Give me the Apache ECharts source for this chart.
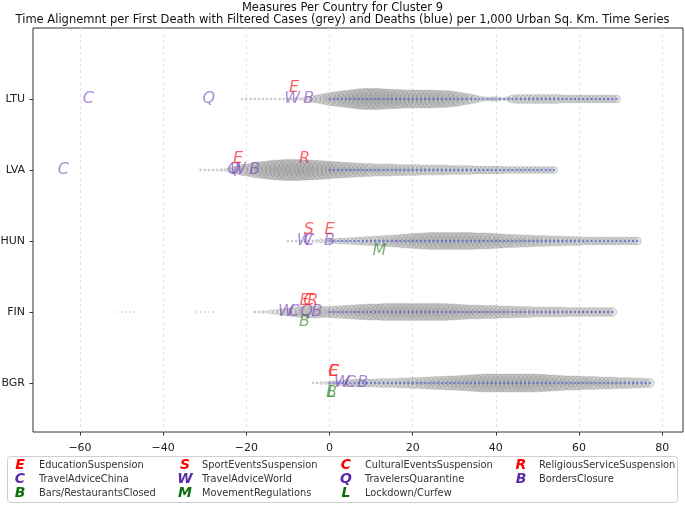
<!DOCTYPE html>
<html><head><meta charset="utf-8">
<script src="https://cdn.jsdelivr.net/npm/echarts@6/dist/echarts.min.js"></script>
<style>html,body{margin:0;padding:0;background:#fff}#c{width:685px;height:505px}</style>
</head><body><div id="c"></div>
<script>
// ---------------- data ----------------
const countries = ['BGR', 'FIN', 'HUN', 'LVA', 'LTU']; // bottom -> top
const xTicks = [-60, -40, -20, 0, 20, 40, 60, 80];
const titleText = 'Measures Per Country for Cluster 9';
const subtitleText = 'Time Alignemnt per First Death with Filtered Cases (grey) and Deaths (blue) per 1,000 Urban Sq. Km. Time Series';

// filtered cases per 1,000 urban sq. km, one value per day from the start day (day 0 = first death)
const ltuStart = -21;
const ltuCases = [1,1,1,1,1,1,1, 1,1,1, 1,1,2,2,2,4,6, 12,16,25,30, 42,49,56,64,72,81,90,100,
  110,110,110,110,110, 100,100,90,90,90, 81,81,81,81,81,81,81,81, 72,72,72,
  64,56,49,36,30,25,16,9,6,4,6,6,4,2,6, 16, 20,20,20,20,20,20,20,20,20,20,20,
  16,16,16,16,16,16,16,16,16,16,16,16,16,16];
const lvaStart = -31;
const lvaCases = [1,1,1,1,1,2,2, 6,12,20,30,36,42,56,64,72,81,90,
  100,100,110,110,110,110,110,100,100, 100,90,90,81,
  72,72,64,64,56,56,49,49,42,42,42, 36,36,36,36,36,30,30,30,30,30,
  30,25,25,25,25,25,25,25,20,20,20,20, 20,20,16,16,16,16,16,16,16,12,12,12,
  12,12,12,12,12,12,12,12,12,12];
const hunStart = -10;
const hunCases = [1,1,1,1,1,1,1, 2,4,4, 6,6,9,9,9,12,12,16,16, 20,20,25,25,30,30,36,36,
  42,49,49,56,56,64,64,72, 72,72,72,72,72,72,72,72, 72,72,64,64,64,64,56,56,
  49,49,42,42,42,36,36,36, 30,30,30,30,25,25,25,25, 20,20,20,20,16,16,16,16,
  16,16,16,16,16,16,16,16,16,16];
const finStart = -51;
const finCases = [0.2,0.2,0.2,0.2,0.2, 0,0,0,0,0,0,0,0,0,0,0,0,0,0, 0.2,0.2,0.2,0.2,0.2, 0,0,0,0,0,0,0,0,0,
  1,1,2,2, 4,6,9,12,16,20,25,30,36, 36,36,36,30,30, 30,36,36,42,42,49,49,56,56,
  64,64,64,64,72,72,72,72, 72,72,72,72,72,72,72,72,72,72,72,72, 64,64,56,56,
  49,49,49,49,42,42,42,42, 36,36,36,36,30,30,30,30, 25,25,25,25,25,25,25,25,
  20,20,20,20,20,20,20,20,20,20,20,20];
const bgrStart = -4;
const bgrCases = [1,1,2,2, 4,6,6,9,12,12,16,16,16, 16,16,16,20,20,20,20,20,
  25,25,25,30,30,30,36,36, 42,42,42,49,49,49,56,56, 64,64,72,72,
  81,81,81,81,81,81,81,81,81,81,81,81,81,81, 72,72,64,64,56,56,
  49,49,49,49,42,42,42,42, 36,36,36,36,30,30,30,30, 25,25,25,20,20];

// measures (legend order); group 0 = red, 1 = purple, 2 = green
const measureNames = ['EducationSuspension','SportEventsSuspension','CulturalEventsSuspension','ReligiousServiceSuspension',
  'TravelAdviceChina','TravelAdviceWorld','TravelersQuarantine','BordersClosure',
  'Bars/RestaurantsClosed','MovementRegulations','Lockdown/Curfew'];
const measureLetters = ['E','S','C','R','C','W','Q','B','B','M','L'];
const measureGroups = [0,0,0,0,1,1,1,1,2,2,2];

// [measure index, day]
const ltuMeasures = [[4,-58],[6,-29],[5,-9],[0,-8.5],[7,-5]];
const lvaMeasures = [[4,-64],[6,-23],[5,-22],[0,-22],[7,-18],[3,-6]];
const hunMeasures = [[5,-6],[4,-5],[1,-5],[0,0],[7,0],[9,12]];
const finMeasures = [[5,-10.5],[4,-8.5],[6,-5.5],[7,-3],[0,-6],[2,-5],[3,-4],[8,-6]];
const bgrMeasures = [[0,1],[2,1],[5,3],[4,5],[7,8],[8,0.5],[10,0.5]];

// ---------------- build ----------------
const rows = [
  {c:'LTU', start:ltuStart, cases:ltuCases, measures:ltuMeasures},
  {c:'LVA', start:lvaStart, cases:lvaCases, measures:lvaMeasures},
  {c:'HUN', start:hunStart, cases:hunCases, measures:hunMeasures},
  {c:'FIN', start:finStart, cases:finCases, measures:finMeasures},
  {c:'BGR', start:bgrStart, cases:bgrCases, measures:bgrMeasures}
];
const caseData = [], deathData = [], letterData = [];
const plotColors = ['rgba(255,15,15,0.82)','rgba(110,58,185,0.72)','rgba(20,125,20,0.72)'];
const legendColors = ['#ff0000','#5a2ba8','#0b6e0b'];
const letterOffsets = [-11.5, 0, 10];
rows.forEach(r => {
  const y = countries.indexOf(r.c);
  r.cases.forEach((v, i) => {
    const day = r.start + i;
    if (v > 0) {
      caseData.push([day, y, v]);
      if (day >= 0) deathData.push([day, y]);
    }
  });
  r.measures.forEach(([m, day]) => {
    const g = measureGroups[m];
    letterData.push({
      value: [day, y],
      label: {formatter: measureLetters[m], color: plotColors[g], offset: [0, letterOffsets[g]]}
    });
  });
});

const FONT = 'DejaVu Sans';
const graphics = [{
  type: 'rect', shape: {x: 7.5, y: 456.5, width: 670, height: 46, r: 3},
  style: {fill: '#fff', stroke: '#cfcfcf', lineWidth: 1}, z: 100
}];
const colSym = [20, 185, 346, 521], colTxt = [39, 202, 365, 539], rowY = [465, 479, 493];
const posInGroup = [0,0,0];
measureNames.forEach((name, i) => {
  const g = measureGroups[i];
  const col = posInGroup[g]++;
  graphics.push({type: 'text', z: 101, x: colSym[col], y: rowY[g],
    style: {text: measureLetters[i], fill: legendColors[g], font: 'italic bold 14px "' + FONT + '"', align: 'center', verticalAlign: 'middle'}});
  graphics.push({type: 'text', z: 101, x: colTxt[col], y: rowY[g],
    style: {text: name, fill: '#333', font: '9.8px "' + FONT + '"', align: 'left', verticalAlign: 'middle'}});
});

const chart = echarts.init(document.getElementById('c'), null, {renderer: 'canvas'});
chart.setOption({
  animation: false,
  backgroundColor: '#fff',
  title: [
    {text: titleText, left: 'center', top: -3, textStyle: {fontFamily: FONT, fontSize: 11.5, fontWeight: 'normal', color: '#111'}},
    {text: subtitleText, left: 'center', top: 9, textStyle: {fontFamily: FONT, fontSize: 11.5, fontWeight: 'normal', color: '#111'}}
  ],
  grid: {left: 33, right: 2, top: 28, bottom: 73, show: true, borderColor: '#333', borderWidth: 1, backgroundColor: 'transparent', outerBoundsMode: 'none'},
  xAxis: {
    type: 'value', min: -71.3, max: 85,
    axisLine: {show: false, onZero: false},
    axisTick: {show: true, customValues: xTicks, length: 3.5, lineStyle: {color: '#333'}},
    axisLabel: {customValues: xTicks, margin: 10.5, fontFamily: FONT, fontSize: 11, color: '#222',
      formatter: v => String(v).replace('-', '\u2212')},
    splitLine: {show: true, customValues: xTicks, lineStyle: {type: [3, 3], color: '#dcdcdc', width: 0.8}}
  },
  yAxis: {
    type: 'value', min: -0.69, max: 5,
    axisLine: {show: false, onZero: false},
    axisTick: {show: true, customValues: [0,1,2,3,4], length: 3.5, lineStyle: {color: '#333'}},
    axisLabel: {customValues: [0,1,2,3,4], margin: 8, fontFamily: FONT, fontSize: 11, color: '#222',
      formatter: v => countries[Math.round(v)]},
    splitLine: {show: false}
  },
  graphic: graphics,
  series: [
    {type: 'scatter', data: caseData, z: 2, silent: true,
      symbolSize: v => 2 * Math.sqrt(v[2]),
      itemStyle: {color: 'rgba(150,150,150,0.3)', borderColor: 'rgba(90,90,90,0.42)', borderWidth: 0.7}},
    {type: 'scatter', data: deathData, z: 3, silent: true, symbolSize: 2.6,
      itemStyle: {color: 'rgba(70,90,215,0.75)'}},
    {type: 'scatter', data: letterData, z: 4, silent: true, symbolSize: 1,
      itemStyle: {color: 'rgba(0,0,0,0)'},
      label: {show: true, position: 'inside', fontFamily: FONT, fontStyle: 'italic', fontSize: 16}}
  ]
});
</script></body></html>
